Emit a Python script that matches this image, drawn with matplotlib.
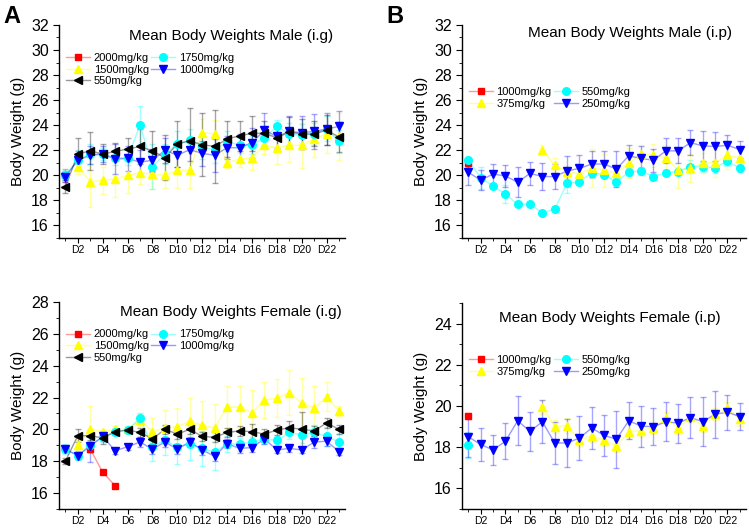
import numpy as np
import matplotlib
matplotlib.use("Agg")
import matplotlib.pyplot as plt
from matplotlib.ticker import MultipleLocator

plt.rcParams['font.family'] = ['Liberation Sans', 'DejaVu Sans']

nan = np.nan
days = list(range(1, 24))
day_labels = ["D%d" % d for d in days]

# ---------------- A: Male (i.g) ----------------
m_ig_labels = ["2000mg/kg", "1500mg/kg", "550mg/kg", "1750mg/kg", "1000mg/kg"]
m_ig_2000 = [20.0] + [nan] * 22
m_ig_2000_err = [0.5] + [0] * 22
m_ig_1750 = [20.0, 21.2, 21.7, 21.7, 21.4, 21.4, 24.0, 20.7, 21.7, 22.5, 22.8, 22.3, 22.0, 22.7, 22.4, 22.4, 23.0, 23.9, 23.3, 23.2, 23.3, 23.7, 22.7]
m_ig_1750_err = [0.4, 0.8, 0.8, 0.5, 0.6, 0.6, 1.5, 1.8, 0.8, 1.0, 0.9, 1.0, 1.0, 0.8, 0.6, 0.7, 0.8, 0.5, 0.9, 0.9, 0.9, 1.0, 0.9]
m_ig_1500 = [nan, 20.7, 19.5, 19.6, 19.7, 20.0, 20.2, 20.1, 20.0, 20.4, 20.4, 23.4, 23.3, 21.0, 21.3, 21.4, 22.4, 22.2, 22.4, 22.4, 22.9, 23.3, 23.1]
m_ig_1500_err = [0, 0.6, 2.0, 1.1, 1.4, 1.4, 0.9, 1.2, 1.0, 1.4, 1.4, 1.1, 1.1, 0.4, 0.6, 1.0, 0.7, 1.3, 1.3, 1.8, 1.4, 1.5, 1.9]
m_ig_1000 = [19.9, 21.2, 21.6, 21.7, 21.3, 21.35, 21.05, 21.2, 22.0, 21.6, 22.05, 21.75, 21.6, 22.2, 22.2, 22.6, 23.6, 23.1, 23.5, 23.4, 23.5, 23.7, 23.9]
m_ig_1000_err = [0.4, 0.7, 0.7, 0.6, 1.2, 1.0, 1.0, 0.9, 1.0, 0.9, 0.9, 1.0, 1.3, 0.9, 1.1, 1.2, 1.4, 1.0, 1.2, 1.3, 1.4, 1.3, 1.2]
m_ig_550 = [19.1, 21.7, 21.95, 21.7, 21.9, 22.1, 22.3, 21.95, 21.4, 22.5, 22.75, 22.45, 22.3, 22.9, 23.15, 23.35, 23.35, 23.0, 23.45, 23.3, 23.3, 23.6, 23.05]
m_ig_550_err = [0.5, 1.3, 1.5, 0.8, 0.7, 0.9, 1.4, 1.6, 1.8, 1.8, 2.6, 2.5, 2.9, 1.4, 1.2, 1.4, 1.0, 0.8, 1.2, 1.2, 1.0, 1.2, 1.2]

# ---------------- A: Female (i.g) ----------------
f_ig_2000 = [nan, nan, 18.75, 17.3, 16.45] + [nan] * 18
f_ig_2000_err = [0, 0, 0.2, 0, 0] + [0] * 18
f_ig_1750 = [18.75, 18.35, 19.0, 19.5, 19.85, 19.95, 20.7, 18.9, 19.3, 18.9, 19.1, 18.8, 18.55, 19.1, 19.05, 19.2, 19.4, 19.3, 19.8, 19.65, 19.8, 19.55, 19.2]
f_ig_1750_err = [0.3, 0.3, 0.5, 0.3, 0.2, 0.2, 0.3, 0.9, 0.9, 1.1, 1.0, 1.1, 1.1, 0.5, 0.4, 0.3, 0.3, 0.3, 0.4, 0.5, 0.5, 0.6, 0.5]
f_ig_1500 = [nan, 19.0, 20.0, 19.85, 20.0, 20.0, 20.6, 19.85, 20.1, 20.15, 20.5, 20.25, 20.1, 21.4, 21.4, 21.05, 21.85, 21.95, 22.3, 21.65, 21.35, 22.05, 21.15]
f_ig_1500_err = [0, 0.3, 1.45, 0.2, 0.2, 0.2, 0.4, 0.85, 1.1, 1.2, 1.45, 1.5, 1.5, 1.3, 1.3, 1.4, 1.15, 1.2, 1.4, 1.6, 1.4, 0.9, 0.3]
f_ig_1000 = [18.75, 18.35, 18.95, 19.55, 18.65, 18.9, 19.2, 18.75, 19.2, 18.75, 19.2, 18.7, 18.3, 19.1, 18.8, 18.85, 19.4, 18.7, 18.8, 18.7, 19.2, 19.25, 18.6]
f_ig_1000_err = [0.2, 0.2, 1.0, 0.3, 0.2, 0.2, 0.3, 0.3, 0.3, 0.3, 0.3, 0.3, 0.3, 0.3, 0.3, 0.3, 0.3, 0.2, 0.2, 0.2, 0.4, 0.3, 0.2]
f_ig_550 = [18.0, 19.6, 19.6, 19.45, 19.85, 19.95, 19.8, 19.4, 20.0, 19.7, 20.0, 19.55, 19.5, 19.8, 19.9, 19.85, 19.7, 19.95, 20.1, 20.0, 19.9, 20.4, 20.0]
f_ig_550_err = [0.2, 0.4, 0.3, 0.4, 0.2, 0.2, 0.3, 0.3, 0.3, 0.3, 0.3, 0.3, 0.3, 0.3, 0.3, 0.5, 0.3, 0.3, 0.4, 1.1, 0.3, 0.3, 0.3]

# ---------------- B: Male (i.p) ----------------
ip_labels = ["1000mg/kg", "375mg/kg", "550mg/kg", "250mg/kg"]
m_ip_1000 = [20.95] + [nan] * 22
m_ip_1000_err = [0.3] + [0] * 22
m_ip_550 = [21.2, 19.8, 19.15, 18.5, 17.7, 17.7, 17.0, 17.3, 19.35, 19.5, 20.2, 20.05, 19.45, 20.25, 20.35, 19.9, 20.2, 20.3, 20.7, 20.7, 20.6, 21.15, 20.55]
m_ip_550_err = [0.3, 0.9, 0.2, 0.7, 0.1, 0.1, 0.1, 0.1, 0.8, 0.3, 0.4, 0.3, 0.3, 0.3, 0.3, 0.2, 0.2, 0.3, 0.5, 0.4, 0.4, 0.4, 0.3]
m_ip_375 = [nan] * 6 + [22.05, 20.8, 20.3, 20.1, 20.6, 20.4, 20.2, 21.0, 21.7, 21.6, 21.4, 20.4, 20.6, 21.0, 21.0, 21.6, 21.4]
m_ip_375_err = [0] * 6 + [0.4, 0.6, 0.5, 0.8, 1.5, 1.3, 0.6, 1.2, 0.7, 0.9, 1.0, 1.4, 1.1, 0.8, 1.1, 1.1, 0.7]
m_ip_250 = [20.25, 19.6, 20.1, 19.95, 19.45, 20.15, 19.9, 19.9, 20.35, 20.55, 20.9, 20.9, 20.5, 21.55, 21.35, 21.2, 21.95, 21.95, 22.6, 22.35, 22.3, 22.4, 22.05]
m_ip_250_err = [1.0, 0.8, 0.8, 0.9, 1.2, 0.95, 1.05, 1.0, 1.2, 1.1, 1.0, 1.0, 1.4, 0.9, 1.0, 0.9, 1.0, 1.0, 1.0, 1.2, 1.15, 0.85, 0.65]

# ---------------- B: Female (i.p) ----------------
f_ip_1000 = [19.5] + [nan] * 22
f_ip_1000_err = [0.15] + [0] * 22
f_ip_550 = [18.1] + [nan] * 22
f_ip_550_err = [0.65] + [0] * 22
f_ip_375 = [nan] * 6 + [19.95, 19.0, 19.05, 18.35, 18.55, 18.35, 18.05, 18.75, 18.8, 18.95, 19.4, 18.95, 19.45, 19.05, 19.6, 19.9, 19.35]
f_ip_375_err = [0] * 6 + [0.35, 0.3, 0.35, 0.3, 0.3, 0.3, 0.3, 0.35, 0.3, 0.3, 0.3, 0.3, 0.3, 0.3, 0.3, 0.3, 0.3]
f_ip_250 = [18.5, 18.13, 17.86, 18.28, 19.28, 18.76, 19.24, 18.2, 18.2, 18.44, 18.93, 18.57, 18.38, 19.28, 19.02, 18.99, 19.23, 19.17, 19.43, 19.24, 19.6, 19.7, 19.48]
f_ip_250_err = [1.0, 0.8, 0.75, 0.88, 1.2, 0.95, 1.05, 1.0, 1.17, 1.05, 1.0, 0.98, 1.4, 0.9, 1.0, 0.9, 0.95, 0.95, 1.0, 1.2, 1.15, 0.85, 0.65]

RED, YEL, CYA, BLU, BLK = "#ff0000", "#ffff00", "#00ffff", "#0000ff", "#000000"


def series(ax, y, e, color, marker, label, ms=5.5):
    x = np.array(days, dtype=float)
    y = np.array(y, dtype=float)
    e = np.array(e, dtype=float)
    ax.errorbar(x, y, yerr=e, fmt='none', ecolor=color, alpha=0.35,
                elinewidth=1.0, capsize=2.5, capthick=1.0, zorder=2)
    ax.plot(x, y, '-', color=color, alpha=0.4, lw=1.0, zorder=3)
    ax.plot(x, y, linestyle='none', color=color, marker=marker, ms=ms,
            mec=color, mfc=color, zorder=4, label=label)
    hl = matplotlib.lines.Line2D([], [], color=matplotlib.colors.to_rgba(color, 0.4), lw=1.0,
                                 marker=marker, ms=ms, mfc=color, mec=color)
    return hl


def style(ax, ylo, yhi, title, tx, ty):
    ax.set_xlim(0.5, 23.5)
    ax.set_ylim(ylo, yhi)
    ax.spines['top'].set_visible(False)
    ax.spines['right'].set_visible(False)
    ax.spines['left'].set_linewidth(1.0)
    ax.spines['bottom'].set_linewidth(1.0)
    ax.yaxis.set_major_locator(MultipleLocator(2))
    ax.yaxis.set_minor_locator(MultipleLocator(1))
    ax.set_xticks(days[1::2])
    ax.set_xticklabels(day_labels[1::2], fontsize=7.5)
    ax.set_xticks(days[0::2], minor=True)
    ax.tick_params(axis='y', which='major', labelsize=11.5, length=4, direction='out')
    ax.tick_params(axis='y', which='minor', length=2.5, direction='out')
    ax.tick_params(axis='x', which='major', length=3.5, direction='out', pad=1.5)
    ax.tick_params(axis='x', which='minor', length=2.5, direction='out')
    ax.set_ylabel("Body Weight (g)", fontsize=11, labelpad=4)
    ax.text(tx, ty, title, transform=ax.transAxes, fontsize=11, ha='center', va='center')


fig = plt.figure(figsize=(7.49, 5.30), dpi=100)

# Panel A top
ax1 = fig.add_axes([0.079, 0.551, 0.382, 0.402])
h = []
h.append(series(ax1, m_ig_2000, m_ig_2000_err, RED, 's', m_ig_labels[0], ms=5))
h.append(series(ax1, m_ig_1500, m_ig_1500_err, YEL, '^', m_ig_labels[1]))
h.append(series(ax1, m_ig_1750, m_ig_1750_err, CYA, 'o', m_ig_labels[3]))
h.append(series(ax1, m_ig_1000, m_ig_1000_err, BLU, 'v', m_ig_labels[4]))
h.append(series(ax1, m_ig_550, m_ig_550_err, BLK, '<', m_ig_labels[2]))
style(ax1, 15, 32, "Mean Body Weights Male (i.g)", 0.6, 0.95)
ax1.legend([h[0], h[1], h[4], h[2], h[3]], m_ig_labels, ncol=2, frameon=False,
           fontsize=8, loc='upper left', bbox_to_anchor=(0.0, 0.9),
           handlelength=2.2, handletextpad=0.3, columnspacing=0.2, labelspacing=0.15,
           borderaxespad=0.2)

# Panel B top
ax2 = fig.add_axes([0.617, 0.551, 0.379, 0.402])
g = []
g.append(series(ax2, m_ip_1000, m_ip_1000_err, RED, 's', ip_labels[0], ms=5))
g.append(series(ax2, m_ip_550, m_ip_550_err, CYA, 'o', ip_labels[2]))
g.append(series(ax2, m_ip_375, m_ip_375_err, YEL, '^', ip_labels[1]))
g.append(series(ax2, m_ip_250, m_ip_250_err, BLU, 'v', ip_labels[3]))
style(ax2, 15, 32, "Mean Body Weights Male (i.p)", 0.59, 0.96)
ax2.legend([g[0], g[2], g[1], g[3]], ip_labels, ncol=2, frameon=False,
           fontsize=8, loc='upper left', bbox_to_anchor=(0.0, 0.74),
           handlelength=2.2, handletextpad=0.3, columnspacing=0.2, labelspacing=0.15,
           borderaxespad=0.2)

# Panel A bottom
ax3 = fig.add_axes([0.079, 0.04, 0.382, 0.39])
k = []
k.append(series(ax3, f_ig_2000, f_ig_2000_err, RED, 's', m_ig_labels[0], ms=5))
k.append(series(ax3, f_ig_1500, f_ig_1500_err, YEL, '^', m_ig_labels[1]))
k.append(series(ax3, f_ig_1750, f_ig_1750_err, CYA, 'o', m_ig_labels[3]))
k.append(series(ax3, f_ig_1000, f_ig_1000_err, BLU, 'v', m_ig_labels[4]))
k.append(series(ax3, f_ig_550, f_ig_550_err, BLK, '<', m_ig_labels[2]))
style(ax3, 15, 28, "Mean Body Weights Female (i.g)", 0.6, 0.95)
ax3.legend([k[0], k[1], k[4], k[2], k[3]], m_ig_labels, ncol=2, frameon=False,
           fontsize=8, loc='upper left', bbox_to_anchor=(0.0, 0.9),
           handlelength=2.2, handletextpad=0.3, columnspacing=0.2, labelspacing=0.15,
           borderaxespad=0.2)

# Panel B bottom
ax4 = fig.add_axes([0.617, 0.04, 0.379, 0.388])
q = []
q.append(series(ax4, f_ip_1000, f_ip_1000_err, RED, 's', ip_labels[0], ms=5))
q.append(series(ax4, f_ip_550, f_ip_550_err, CYA, 'o', ip_labels[2]))
q.append(series(ax4, f_ip_375, f_ip_375_err, YEL, '^', ip_labels[1]))
q.append(series(ax4, f_ip_250, f_ip_250_err, BLU, 'v', ip_labels[3]))
style(ax4, 15, 25, "Mean Body Weights Female (i.p)", 0.52, 0.93)
ax4.legend([q[0], q[2], q[1], q[3]], ip_labels, ncol=2, frameon=False,
           fontsize=8, loc='upper left', bbox_to_anchor=(0.0, 0.78),
           handlelength=2.2, handletextpad=0.3, columnspacing=0.2, labelspacing=0.15,
           borderaxespad=0.2)

fig.text(0.005, 0.99, "A", fontsize=17, fontweight='bold', va='top', ha='left')
fig.text(0.516, 0.99, "B", fontsize=17, fontweight='bold', va='top', ha='left')

fig.savefig("out.png", dpi=100)
